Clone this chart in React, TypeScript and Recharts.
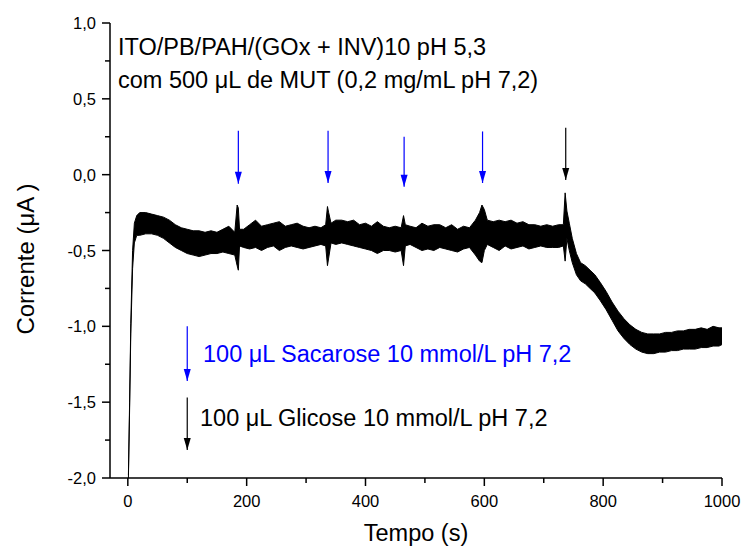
import { ComposedChart, Area, XAxis, YAxis, ReferenceLine, ReferenceDot } from "recharts"

// amperometric trace (band = noise envelope)
const time = [
  1, 3, 5, 8, 11, 15, 20, 30, 40, 50,
  60, 70, 80, 90, 100, 110, 120, 130, 140, 150,
  160, 170, 180, 184, 186, 188, 195, 205, 215, 225,
  235, 245, 255, 265, 275, 285, 295, 305, 315, 325,
  333, 336, 338, 342, 350, 360, 370, 380, 390, 400,
  410, 420, 430, 440, 450, 460, 464, 467, 475, 485,
  495, 505, 515, 525, 535, 545, 555, 565, 575, 585,
  592, 596, 600, 605, 615, 625, 635, 645, 655, 665,
  675, 685, 695, 705, 715, 725, 733, 736, 739, 743,
  748, 755, 762, 770, 778, 786, 795, 805, 815, 825,
  835, 845, 855, 865, 875, 885, 895, 905, 915, 925,
  935, 945, 955, 965, 975, 985, 995, 1000,
]

const lower = [
  -2.0, -1.55, -1.05, -0.62, -0.45, -0.4, -0.4, -0.39, -0.39, -0.4,
  -0.42, -0.45, -0.48, -0.5, -0.52, -0.53, -0.54, -0.53, -0.52, -0.52,
  -0.51, -0.52, -0.53, -0.6, -0.63, -0.47, -0.48, -0.49, -0.48, -0.5,
  -0.48, -0.47, -0.5, -0.48, -0.47, -0.48, -0.49, -0.48, -0.47, -0.46,
  -0.47, -0.6, -0.55, -0.45, -0.46, -0.45, -0.46, -0.47, -0.48, -0.49,
  -0.5, -0.52, -0.5, -0.5, -0.51, -0.5, -0.6, -0.47, -0.46, -0.48,
  -0.5, -0.49, -0.5, -0.48, -0.49, -0.5, -0.51, -0.49, -0.48, -0.53,
  -0.57, -0.58, -0.5, -0.46, -0.48, -0.5, -0.47, -0.49, -0.48, -0.47,
  -0.49, -0.48, -0.47, -0.48, -0.48, -0.48, -0.47, -0.57, -0.42, -0.5,
  -0.58, -0.66, -0.7, -0.72, -0.75, -0.78, -0.83, -0.89, -0.96, -1.03,
  -1.08, -1.12, -1.15, -1.17, -1.18, -1.18, -1.17, -1.17, -1.16, -1.16,
  -1.15, -1.15, -1.15, -1.14, -1.14, -1.13, -1.13, -1.12,
]

const upper = [
  -1.98, -1.5, -0.98, -0.5, -0.32, -0.27, -0.25, -0.25, -0.26, -0.27,
  -0.28, -0.3, -0.33, -0.35, -0.36, -0.37, -0.37, -0.38, -0.37, -0.38,
  -0.36, -0.34, -0.38, -0.2, -0.22, -0.36, -0.36, -0.33, -0.3, -0.34,
  -0.33, -0.32, -0.31, -0.34, -0.33, -0.32, -0.34, -0.35, -0.34, -0.35,
  -0.33, -0.21, -0.25, -0.32, -0.3, -0.3, -0.31, -0.3, -0.33, -0.32,
  -0.34, -0.31, -0.34, -0.35, -0.34, -0.35, -0.27, -0.33, -0.34, -0.35,
  -0.32, -0.34, -0.33, -0.33, -0.35, -0.33, -0.36, -0.34, -0.35, -0.3,
  -0.25, -0.2, -0.23, -0.3, -0.31, -0.3, -0.31, -0.3, -0.32, -0.31,
  -0.33, -0.33, -0.34, -0.33, -0.34, -0.33, -0.33, -0.12, -0.24, -0.32,
  -0.42, -0.52, -0.58, -0.6, -0.63, -0.66, -0.71, -0.77, -0.84, -0.9,
  -0.95, -0.99, -1.02, -1.04, -1.05, -1.05, -1.05, -1.04, -1.04, -1.03,
  -1.03, -1.02, -1.02, -1.01, -1.02, -1.0, -1.01, -1.01,
]

// addition arrows
const sucroseTimes = [186, 337, 465, 597]
const sucroseTop = [0.29, 0.29, 0.25, 0.285]
const sucroseTip = [-0.06, -0.055, -0.08, -0.055]
const glucoseTimes = [737]
const glucoseTop = [0.31]
const glucoseTip = [-0.035]

// legend arrows
const legendTime = 100
const legendSucrose = [-1.0, -1.36]
const legendGlucose = [-1.47, -1.815]

const xTicks = [0, 100, 200, 300, 400, 500, 600, 700, 800, 900, 1000]
const yTicks = [-2, -1.75, -1.5, -1.25, -1, -0.75, -0.5, -0.25, 0, 0.25, 0.5, 0.75, 1]

const BLUE = "#0000ff"
const FONT = "'Liberation Sans', Arial, sans-serif"

const chartData = time.map((t, i) => ({ t, band: [lower[i], upper[i]] }))

const isMajorY = (v: number) => Math.abs(v * 2 - Math.round(v * 2)) < 1e-6
const isMajorX = (v: number) => v % 200 === 0

const LeftTick = (props: any) => {
  const { x, y, payload } = props
  const major = isMajorY(payload.value)
  return (
    <g>
      <line x1={x - (major ? 8 : 5)} x2={x} y1={y} y2={y} stroke="#000" strokeWidth={1.5} />
      {major && (
        <text x={x - 14} y={y} dy={6} textAnchor="end" fontSize={16.5} fontFamily={FONT} fill="#000">
          {payload.value.toFixed(1).replace(".", ",")}
        </text>
      )}
    </g>
  )
}

const RightTick = (props: any) => {
  const { x, y, payload } = props
  const major = isMajorY(payload.value)
  return <line x1={x - (major ? 6 : 3)} x2={x} y1={y} y2={y} stroke="#000" strokeWidth={1.2} />
}

const BottomTick = (props: any) => {
  const { x, y, payload } = props
  const major = isMajorX(payload.value)
  return (
    <g>
      <line x1={x} x2={x} y1={y} y2={y + (major ? 8 : 5)} stroke="#000" strokeWidth={1.5} />
      {major && (
        <text x={x} y={y + 29} textAnchor="middle" fontSize={16.5} fontFamily={FONT} fill="#000">
          {payload.value}
        </text>
      )}
    </g>
  )
}

const TopTick = (props: any) => {
  const { x, y, payload } = props
  const major = isMajorX(payload.value)
  return <line x1={x} x2={x} y1={y} y2={y + (major ? 6 : 3)} stroke="#000" strokeWidth={1.2} />
}

const arrowHead = (color: string) => (p: any) => (
  <path d={`M${p.cx},${p.cy} L${p.cx - 3.5},${p.cy - 12} L${p.cx + 3.5},${p.cy - 12} Z`} fill={color} />
)

function Arrow({ t, top, tip, color }: { t: number; top: number; tip: number; color: string }) {
  return (
    <>
      <ReferenceLine
        segment={[{ x: t, y: top }, { x: t, y: tip }]}
        stroke={color}
        strokeWidth={1.2}
        ifOverflow="visible"
      />
      <ReferenceDot x={t} y={tip} r={0} ifOverflow="visible" shape={arrowHead(color)} />
    </>
  )
}

export default function App() {
  return (
    <div style={{ position: "absolute", left: 0, top: 0, width: 742, height: 546, background: "#fff" }}>
      <ComposedChart
        width={742}
        height={546}
        data={chartData}
        margin={{ top: 23, right: 20, bottom: 0, left: 0 }}
      >
        <XAxis
          dataKey="t"
          type="number"
          domain={[-30, 1000]}
          ticks={xTicks}
          height={68}
          tickSize={0}
          tickMargin={0}
          tickLine={false}
          tick={BottomTick}
          axisLine={{ stroke: "#000", strokeWidth: 1.5 }}
          allowDataOverflow
        />
        <XAxis
          xAxisId="top"
          orientation="top"
          type="number"
          domain={[-30, 1000]}
          ticks={xTicks}
          height={0}
          tickSize={0}
          tickMargin={0}
          tickLine={false}
          tick={TopTick}
          axisLine={{ stroke: "#000", strokeWidth: 1.5 }}
          allowDataOverflow
        />
        <YAxis
          type="number"
          domain={[-2, 1]}
          ticks={yTicks}
          width={110}
          tickSize={0}
          tickMargin={0}
          tickLine={false}
          tick={LeftTick}
          axisLine={{ stroke: "#000", strokeWidth: 1.5 }}
          allowDataOverflow
        />
        <YAxis
          yAxisId="right"
          orientation="right"
          type="number"
          domain={[-2, 1]}
          ticks={yTicks}
          width={0}
          tickSize={0}
          tickMargin={0}
          tickLine={false}
          tick={RightTick}
          axisLine={{ stroke: "#000", strokeWidth: 1.5 }}
          allowDataOverflow
        />
        <Area
          dataKey="band"
          type="linear"
          stroke="#000"
          strokeWidth={1}
          fill="#000"
          fillOpacity={1}
          dot={false}
          activeDot={false}
          isAnimationActive={false}
        />
        {sucroseTimes.map((t, i) => (
          <Arrow key={`s${i}`} t={t} top={sucroseTop[i]} tip={sucroseTip[i]} color={BLUE} />
        ))}
        {glucoseTimes.map((t, i) => (
          <Arrow key={`g${i}`} t={t} top={glucoseTop[i]} tip={glucoseTip[i]} color="#000" />
        ))}
        <Arrow t={legendTime} top={legendSucrose[0]} tip={legendSucrose[1]} color={BLUE} />
        <Arrow t={legendTime} top={legendGlucose[0]} tip={legendGlucose[1]} color="#000" />
      </ComposedChart>
      <svg
        width={742}
        height={546}
        style={{ position: "absolute", left: 0, top: 0, pointerEvents: "none" }}
        fontFamily={FONT}
      >
        <text x={118} y={55} fontSize={23.5} fill="#000">ITO/PB/PAH/(GOx + INV)10 pH 5,3</text>
        <text x={118} y={88} fontSize={23.5} fill="#000">com 500 μL de MUT (0,2 mg/mL pH 7,2)</text>
        <text x={203} y={362} fontSize={23.5} fill={BLUE}>100 μL Sacarose 10 mmol/L pH 7,2</text>
        <text x={200} y={426} fontSize={23.5} fill="#000">100 μL Glicose 10 mmol/L pH 7,2</text>
        <text x={416} y={541} fontSize={23.5} textAnchor="middle" fill="#000">Tempo (s)</text>
        <text
          x={0}
          y={0}
          fontSize={24}
          textAnchor="middle"
          fill="#000"
          transform="translate(34,259) rotate(-90)"
        >
          Corrente (μA )
        </text>
      </svg>
    </div>
  )
}
